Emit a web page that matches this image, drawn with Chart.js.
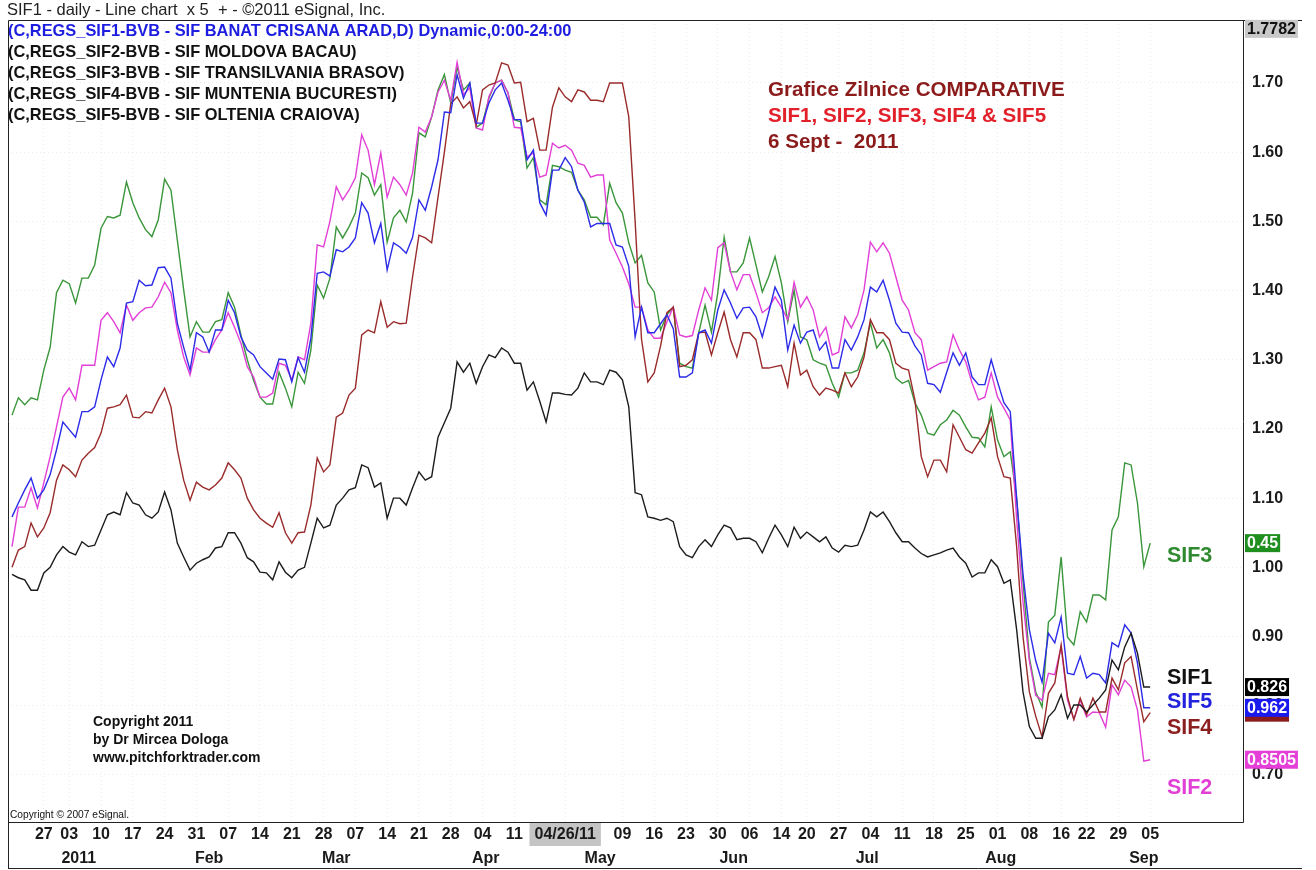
<!DOCTYPE html>
<html>
<head>
<meta charset="utf-8">
<title>SIF1 - SIF5 daily comparative</title>
<script src="https://cdn.jsdelivr.net/npm/chart.js@4.4.1/dist/chart.umd.min.js"></script>
<style>
  html, body { margin: 0; padding: 0; background: #fff; }
</style>
</head>
<body>
<canvas id="sifChart" width="1316" height="870"></canvas>
<script>
// trading day index, Dec 2010 -> 6 Sep 2011
const days = Array.from({ length: 180 }, (_, i) => i);

const tickDays = [5, 9, 14, 19, 24, 29, 34, 39, 44, 49, 54, 59, 64, 69, 74, 79, 87, 96, 101, 106,
  111, 116, 121, 125, 130, 135, 140, 145, 150, 155, 160, 165, 169, 174, 179];
const tickLabels = ['27', '03', '10', '17', '24', '31', '07', '14', '21', '28', '07', '14', '21', '28', '04', '11', '04/26/11', '09', '16', '23',
  '30', '06', '14', '20', '27', '04', '11', '18', '25', '01', '08', '16', '22', '29', '05'];
const monthDays = [10.5, 31, 51, 74.5, 92.5, 113.5, 134.5, 155.5, 178];
const monthLabels = ['2011', 'Feb', 'Mar', 'Apr', 'May', 'Jun', 'Jul', 'Aug', 'Sep'];
const priceTicks = [0.7, 0.8, 0.9, 1.0, 1.1, 1.2, 1.3, 1.4, 1.5, 1.6, 1.7];

// SIF1 - Banat Crisana
const sif1 = [
  0.990, 0.985, 0.982, 0.967, 0.967, 0.992, 1.000, 1.018, 1.030, 1.022,
  1.018, 1.037, 1.030, 1.032, 1.054, 1.076, 1.080, 1.076, 1.108, 1.093,
  1.090, 1.076, 1.071, 1.080, 1.109, 1.083, 1.035, 1.015, 0.996, 1.006,
  1.011, 1.015, 1.028, 1.030, 1.050, 1.050, 1.035, 1.014, 1.008, 0.993,
  0.992, 0.982, 1.008, 0.993, 0.985, 0.996, 1.000, 1.035, 1.071, 1.057,
  1.061, 1.090, 1.100, 1.112, 1.115, 1.148, 1.144, 1.116, 1.122, 1.071,
  1.100, 1.100, 1.090, 1.115, 1.138, 1.126, 1.131, 1.188, 1.209, 1.230,
  1.297, 1.282, 1.295, 1.266, 1.290, 1.307, 1.303, 1.317, 1.311, 1.295,
  1.295, 1.256, 1.268, 1.240, 1.210, 1.252, 1.252, 1.250, 1.249, 1.259,
  1.281, 1.268, 1.268, 1.264, 1.285, 1.282, 1.271, 1.232, 1.108, 1.105,
  1.073, 1.071, 1.068, 1.071, 1.066, 1.030, 1.018, 1.014, 1.030, 1.040,
  1.030, 1.047, 1.061, 1.057, 1.040, 1.042, 1.042, 1.037, 1.021, 1.042,
  1.061, 1.047, 1.030, 1.058, 1.042, 1.051, 1.044, 1.037, 1.044, 1.028,
  1.022, 1.032, 1.030, 1.032, 1.054, 1.080, 1.073, 1.080, 1.066, 1.050,
  1.037, 1.037, 1.028, 1.020, 1.015, 1.018, 1.021, 1.025, 1.028, 1.015,
  1.006, 0.986, 0.992, 0.992, 1.011, 1.001, 0.977, 0.982, 0.910, 0.820,
  0.770, 0.753, 0.753, 0.784, 0.794, 0.816, 0.782, 0.801, 0.801, 0.791,
  0.801, 0.811, 0.823, 0.866, 0.852, 0.885, 0.905, 0.876, 0.827, 0.827
];

// SIF2 - Moldova
const sif2 = [
  1.030, 1.087, 1.087, 1.115, 1.086, 1.122, 1.160, 1.203, 1.246, 1.259,
  1.242, 1.292, 1.292, 1.292, 1.357, 1.368, 1.355, 1.339, 1.379, 1.357,
  1.368, 1.375, 1.376, 1.391, 1.412, 1.397, 1.343, 1.304, 1.278, 1.317,
  1.311, 1.311, 1.329, 1.343, 1.368, 1.347, 1.324, 1.290, 1.275, 1.246,
  1.246, 1.252, 1.295, 1.292, 1.271, 1.304, 1.300, 1.353, 1.466, 1.463,
  1.500, 1.550, 1.531, 1.545, 1.563, 1.625, 1.603, 1.553, 1.599, 1.535,
  1.564, 1.553, 1.538, 1.570, 1.636, 1.629, 1.651, 1.687, 1.704, 1.675,
  1.730, 1.683, 1.693, 1.635, 1.632, 1.680, 1.700, 1.704, 1.686, 1.636,
  1.635, 1.593, 1.599, 1.564, 1.567, 1.613, 1.606, 1.610, 1.603, 1.584,
  1.581, 1.564, 1.567, 1.567, 1.473, 1.454, 1.434, 1.410, 1.376, 1.376,
  1.343, 1.331, 1.331, 1.355, 1.376, 1.336, 1.333, 1.335, 1.372, 1.404,
  1.386, 1.462, 1.469, 1.427, 1.401, 1.423, 1.423, 1.397, 1.368, 1.375,
  1.391, 1.376, 1.358, 1.412, 1.376, 1.391, 1.372, 1.333, 1.347, 1.307,
  1.311, 1.362, 1.346, 1.365, 1.401, 1.470, 1.456, 1.469, 1.454, 1.420,
  1.386, 1.372, 1.339, 1.329, 1.285, 1.290, 1.295, 1.297, 1.336, 1.314,
  1.297, 1.266, 1.242, 1.246, 1.281, 1.246, 1.230, 1.213, 1.070, 0.950,
  0.865, 0.815, 0.808, 0.847, 0.845, 0.885, 0.808, 0.780, 0.808, 0.784,
  0.791, 0.790, 0.769, 0.830, 0.816, 0.837, 0.827, 0.794, 0.720, 0.722
];

// SIF3 - Transilvania
const sif3 = [
  1.220, 1.245, 1.235, 1.245, 1.242, 1.285, 1.318, 1.397, 1.415, 1.410,
  1.382, 1.418, 1.418, 1.437, 1.490, 1.507, 1.505, 1.509, 1.557, 1.527,
  1.505, 1.488, 1.478, 1.502, 1.561, 1.545, 1.473, 1.401, 1.333, 1.355,
  1.340, 1.340, 1.355, 1.358, 1.397, 1.376, 1.336, 1.300, 1.270, 1.246,
  1.236, 1.236, 1.282, 1.259, 1.232, 1.282, 1.266, 1.314, 1.408, 1.389,
  1.418, 1.492, 1.476, 1.492, 1.512, 1.570, 1.563, 1.538, 1.553, 1.470,
  1.505, 1.516, 1.499, 1.541, 1.628, 1.622, 1.651, 1.690, 1.712, 1.671,
  1.723, 1.690, 1.700, 1.636, 1.642, 1.678, 1.700, 1.704, 1.686, 1.647,
  1.644, 1.577, 1.592, 1.531, 1.524, 1.581, 1.579, 1.574, 1.571, 1.545,
  1.531, 1.506, 1.506, 1.495, 1.555, 1.527, 1.512, 1.469, 1.440, 1.451,
  1.411, 1.398, 1.343, 1.365, 1.376, 1.295, 1.290, 1.288, 1.339, 1.379,
  1.340, 1.397, 1.477, 1.427, 1.427, 1.440, 1.476, 1.437, 1.398, 1.420,
  1.449, 1.411, 1.355, 1.401, 1.333, 1.329, 1.300, 1.295, 1.292, 1.266,
  1.246, 1.281, 1.281, 1.285, 1.310, 1.353, 1.317, 1.329, 1.310, 1.274,
  1.266, 1.270, 1.238, 1.220, 1.194, 1.191, 1.206, 1.213, 1.227, 1.220,
  1.203, 1.188, 1.187, 1.174, 1.232, 1.184, 1.160, 1.167, 1.100, 0.980,
  0.870, 0.820, 0.798, 0.921, 0.931, 1.015, 0.899, 0.888, 0.936, 0.921,
  0.960, 0.960, 0.953, 1.054, 1.073, 1.151, 1.148, 1.093, 1.001, 1.035
];

// SIF4 - Muntenia
const sif4 = [
  1.000, 1.025, 1.030, 1.064, 1.044, 1.057, 1.079, 1.126, 1.148, 1.141,
  1.131, 1.155, 1.165, 1.173, 1.194, 1.230, 1.232, 1.235, 1.249, 1.217,
  1.216, 1.225, 1.223, 1.242, 1.259, 1.232, 1.170, 1.126, 1.097, 1.123,
  1.116, 1.112, 1.119, 1.129, 1.151, 1.141, 1.129, 1.100, 1.083, 1.071,
  1.064, 1.058, 1.079, 1.050, 1.035, 1.050, 1.051, 1.090, 1.158, 1.138,
  1.148, 1.217, 1.223, 1.249, 1.259, 1.336, 1.343, 1.339, 1.384, 1.347,
  1.355, 1.352, 1.353, 1.420, 1.480, 1.476, 1.469, 1.535, 1.600, 1.670,
  1.680, 1.664, 1.673, 1.639, 1.690, 1.697, 1.700, 1.729, 1.726, 1.700,
  1.701, 1.644, 1.649, 1.603, 1.603, 1.665, 1.693, 1.680, 1.673, 1.690,
  1.687, 1.675, 1.675, 1.673, 1.700, 1.700, 1.700, 1.651, 1.500, 1.330,
  1.268, 1.281, 1.320, 1.368, 1.376, 1.290, 1.292, 1.300, 1.339, 1.340,
  1.307, 1.339, 1.369, 1.329, 1.304, 1.339, 1.339, 1.329, 1.288, 1.288,
  1.290, 1.292, 1.261, 1.324, 1.278, 1.285, 1.261, 1.249, 1.259, 1.256,
  1.252, 1.281, 1.261, 1.275, 1.304, 1.358, 1.339, 1.339, 1.329, 1.295,
  1.288, 1.285, 1.242, 1.160, 1.131, 1.155, 1.155, 1.138, 1.206, 1.188,
  1.170, 1.165, 1.180, 1.194, 1.216, 1.160, 1.131, 1.129, 1.030, 0.900,
  0.820, 0.785, 0.755, 0.818, 0.833, 0.888, 0.813, 0.780, 0.811, 0.787,
  0.811, 0.791, 0.791, 0.840, 0.823, 0.862, 0.871, 0.823, 0.777, 0.790
];

// SIF5 - Oltenia
const sif5 = [
  1.073, 1.093, 1.112, 1.129, 1.100, 1.112, 1.134, 1.170, 1.210, 1.199,
  1.188, 1.225, 1.225, 1.232, 1.271, 1.304, 1.290, 1.317, 1.382, 1.384,
  1.415, 1.407, 1.408, 1.433, 1.434, 1.418, 1.353, 1.318, 1.285, 1.339,
  1.333, 1.311, 1.343, 1.343, 1.386, 1.368, 1.333, 1.314, 1.307, 1.290,
  1.281, 1.272, 1.301, 1.300, 1.268, 1.303, 1.282, 1.331, 1.425, 1.427,
  1.421, 1.459, 1.456, 1.463, 1.476, 1.527, 1.512, 1.469, 1.497, 1.430,
  1.469, 1.463, 1.454, 1.477, 1.531, 1.516, 1.550, 1.589, 1.658, 1.657,
  1.712, 1.678, 1.700, 1.642, 1.642, 1.671, 1.690, 1.700, 1.675, 1.647,
  1.647, 1.589, 1.603, 1.527, 1.509, 1.574, 1.574, 1.592, 1.579, 1.545,
  1.528, 1.492, 1.497, 1.497, 1.497, 1.466, 1.463, 1.435, 1.333, 1.376,
  1.339, 1.339, 1.352, 1.365, 1.345, 1.275, 1.275, 1.281, 1.339, 1.343,
  1.324, 1.372, 1.401, 1.382, 1.360, 1.375, 1.376, 1.362, 1.333, 1.368,
  1.405, 1.386, 1.314, 1.350, 1.324, 1.340, 1.343, 1.314, 1.326, 1.288,
  1.288, 1.329, 1.314, 1.333, 1.358, 1.405, 1.398, 1.415, 1.386, 1.353,
  1.340, 1.339, 1.320, 1.307, 1.266, 1.264, 1.253, 1.282, 1.310, 1.292,
  1.310, 1.275, 1.264, 1.264, 1.300, 1.268, 1.238, 1.225, 1.100, 0.990,
  0.910, 0.865, 0.834, 0.905, 0.891, 0.928, 0.847, 0.845, 0.871, 0.840,
  0.847, 0.845, 0.833, 0.891, 0.885, 0.917, 0.905, 0.862, 0.797, 0.797
];

const FONT = '"Liberation Sans", Arial, sans-serif';
const C_BLACK = '#1c1c1c';
const C_MAGENTA = '#e23fd6';
const C_GREEN = '#3a963a';
const C_BROWN = '#9a2b2b';
const C_BLUE = '#2b2be8';

const toXY = arr => arr.map((v, i) => ({ x: days[i], y: v }));

// texts, value boxes on the price axis, frame
const sifDecor = {
  id: 'sifDecor',
  beforeDatasetsDraw(chart) {
    const c = chart.ctx;
    c.save();
    c.textBaseline = 'middle';
    c.textAlign = 'left';

    c.font = '16.5px ' + FONT;
    c.fillStyle = '#222';
    c.fillText('SIF1 - daily - Line chart  x 5  + - \u00a92011 eSignal, Inc.', 7, 10);

    c.font = 'bold 16.4px ' + FONT;
    c.fillStyle = '#1d1de0';
    c.fillText('(C,REGS_SIF1-BVB - SIF BANAT CRISANA ARAD,D) Dynamic,0:00-24:00', 8, 31);
    c.fillStyle = '#111';
    c.fillText('(C,REGS_SIF2-BVB - SIF MOLDOVA BACAU)', 8, 52);
    c.fillText('(C,REGS_SIF3-BVB - SIF TRANSILVANIA BRASOV)', 8, 73);
    c.fillText('(C,REGS_SIF4-BVB - SIF MUNTENIA BUCURESTI)', 8, 94);
    c.fillText('(C,REGS_SIF5-BVB - SIF OLTENIA CRAIOVA)', 8, 115);

    c.font = 'bold 20.6px ' + FONT;
    c.fillStyle = '#8b1a1a';
    c.fillText('Grafice Zilnice COMPARATIVE', 768, 90);
    c.fillStyle = '#e2202a';
    c.fillText('SIF1, SIF2, SIF3, SIF4 & SIF5', 768, 116);
    c.fillStyle = '#8b1a1a';
    c.fillText('6 Sept -  2011', 768, 142);

    c.font = 'bold 14px ' + FONT;
    c.fillStyle = '#111';
    c.fillText('Copyright 2011', 93, 722);
    c.fillText('by Dr Mircea Dologa', 93, 740);
    c.fillText('www.pitchforktrader.com', 93, 758);

    c.font = '10.2px ' + FONT;
    c.fillText('Copyright \u00a9 2007 eSignal.', 10, 815);
    c.restore();
  },
  afterDraw(chart) {
    const c = chart.ctx;
    const a = chart.chartArea;
    const xs = chart.scales.x;
    const ys = chart.scales.y;
    c.save();

    // series names at the right end of the lines
    const names = [
      { text: 'SIF3', value: 1.017, color: '#2f8a2f' },
      { text: 'SIF1', value: 0.840, color: '#111' },
      { text: 'SIF5', value: 0.805, color: '#2323dd' },
      { text: 'SIF4', value: 0.768, color: '#8b1f1f' },
      { text: 'SIF2', value: 0.681, color: C_MAGENTA }
    ];
    c.font = 'bold 21.5px ' + FONT;
    c.textAlign = 'center';
    c.textBaseline = 'middle';
    names.forEach(n => {
      c.fillStyle = n.color;
      c.fillText(n.text, xs.getPixelForValue(185.2), ys.getPixelForValue(n.value));
    });

    // frame
    c.strokeStyle = '#222';
    c.lineWidth = 1;
    c.beginPath();
    c.rect(a.left + 0.5, a.top + 0.5, a.right - a.left, a.bottom - a.top);
    c.moveTo(a.right, a.top + 0.5); c.lineTo(1302, a.top + 0.5);
    c.moveTo(a.left + 0.5, a.bottom); c.lineTo(a.left + 0.5, 869);
    c.moveTo(a.left, 868.5); c.lineTo(1302, 868.5);
    c.stroke();

    // last-value boxes on the price axis
    c.font = 'bold 16px ' + FONT;
    c.textAlign = 'left';
    const boxes = [
      { data: sif4, text: '', bg: '#8b1a1a' },
      { data: sif3, text: '0.45', bg: '#1f8f1f' },
      { data: sif1, text: '0.826', bg: '#000' },
      { data: sif5, text: '0.962', bg: '#1a1aee' },
      { data: sif2, text: '0.8505', bg: '#e43fd6' }
    ];
    const x0 = a.right + 2;
    boxes.forEach(b => {
      const y = ys.getPixelForValue(b.data[b.data.length - 1]);
      const w = c.measureText(b.text || '0.962').width + 4;
      c.fillStyle = b.bg;
      c.fillRect(x0, y - 9, w, 18);
      c.fillStyle = '#fff';
      c.fillText(b.text, x0 + 2, y + 0.5);
    });
    const yTop = ys.getPixelForValue(1.7782);
    const wTop = c.measureText('1.7782').width + 4;
    c.fillStyle = '#c8c8c8';
    c.fillRect(x0, yTop - 9, wTop, 18);
    c.fillStyle = '#111';
    c.fillText('1.7782', x0 + 2, yTop + 0.5);
    c.restore();
  }
};

const gridColor = 'rgba(0,0,0,0.07)';
const axisFont = { family: FONT, size: 16, weight: 'bold' };

new Chart(document.getElementById('sifChart').getContext('2d'), {
  type: 'line',
  data: {
    datasets: [
      { label: 'SIF1', data: toXY(sif1), borderColor: C_BLACK },
      { label: 'SIF5', data: toXY(sif5), borderColor: C_BLUE },
      { label: 'SIF4', data: toXY(sif4), borderColor: C_BROWN },
      { label: 'SIF2', data: toXY(sif2), borderColor: C_MAGENTA },
      { label: 'SIF3', data: toXY(sif3), borderColor: C_GREEN }
    ]
  },
  options: {
    responsive: false,
    animation: false,
    devicePixelRatio: 1,
    layout: { padding: { left: 8, top: 20, right: 0, bottom: 0 } },
    elements: {
      point: { radius: 0 },
      line: { borderWidth: 1.4, tension: 0 }
    },
    plugins: {
      legend: { display: false },
      tooltip: { enabled: false }
    },
    scales: {
      x: {
        type: 'linear',
        position: 'bottom',
        weight: 0,
        min: -0.63,
        max: 193.6,
        grid: { color: gridColor, drawTicks: false },
        border: { display: false, dash: [1, 3] },
        afterBuildTicks: s => { s.ticks = tickDays.map(v => ({ value: v })); },
        afterFit: s => { s.height = 24; },
        ticks: {
          autoSkip: false,
          maxRotation: 0,
          padding: 3,
          color: '#1a1a1a',
          font: axisFont,
          showLabelBackdrop: ctx => ctx.index === 16,
          backdropColor: '#c4c4c4',
          backdropPadding: { top: 3, bottom: 4, left: 5, right: 5 },
          callback: (v, i) => tickLabels[i]
        }
      },
      x2: {
        type: 'linear',
        position: 'bottom',
        weight: 1,
        min: -0.63,
        max: 193.6,
        grid: { display: false, drawTicks: false },
        border: { display: false },
        afterBuildTicks: s => { s.ticks = monthDays.map(v => ({ value: v })); },
        afterFit: s => { s.height = 24; },
        ticks: {
          autoSkip: false,
          maxRotation: 0,
          padding: 3,
          color: '#1a1a1a',
          font: axisFont,
          callback: (v, i) => monthLabels[i]
        }
      },
      y: {
        type: 'linear',
        position: 'right',
        min: 0.632,
        max: 1.791,
        grid: { color: gridColor, drawTicks: false },
        border: { display: false, dash: [1, 3] },
        afterBuildTicks: s => { s.ticks = priceTicks.map(v => ({ value: v })); },
        afterFit: s => { s.width = 73; },
        ticks: {
          padding: 9,
          color: '#1a1a1a',
          font: axisFont,
          callback: v => v.toFixed(2)
        }
      }
    }
  },
  plugins: [sifDecor]
});
</script>
</body>
</html>
